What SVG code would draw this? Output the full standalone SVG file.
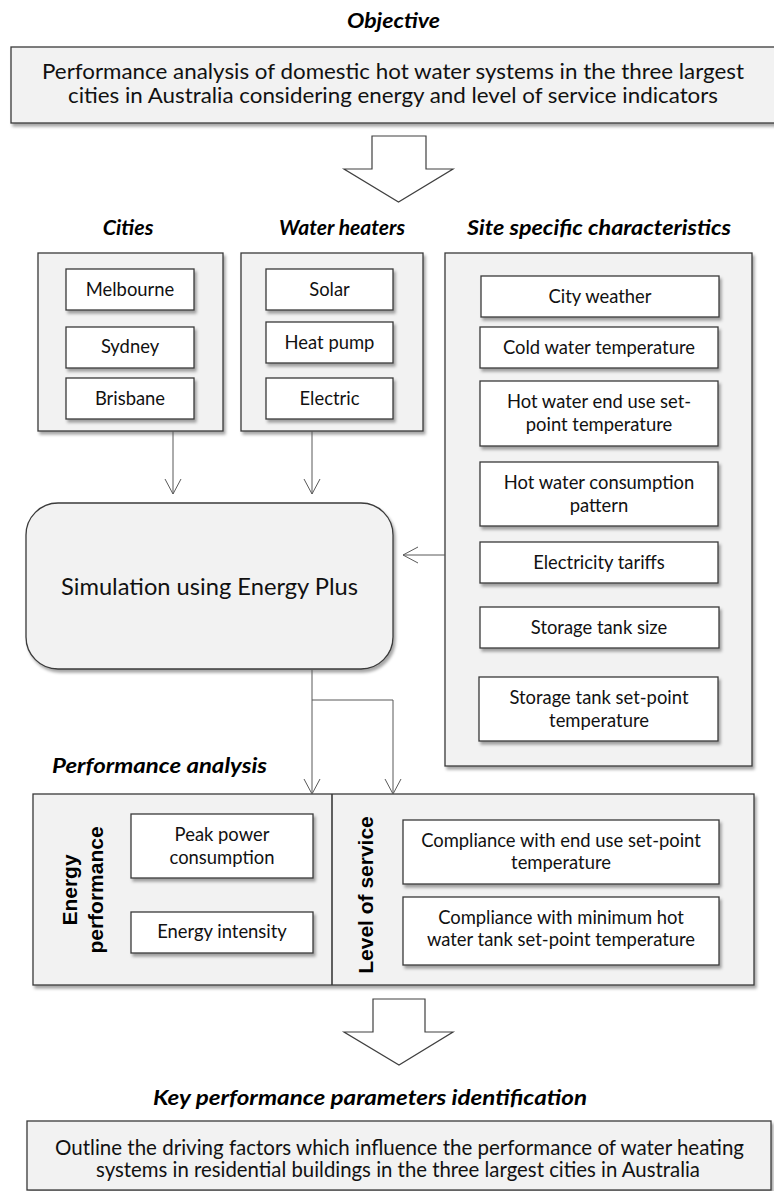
<svg xmlns="http://www.w3.org/2000/svg" width="774" height="1191" viewBox="0 0 774 1191">
<defs>
<filter id="sh" x="-10%" y="-10%" width="130%" height="130%">
<feDropShadow dx="2" dy="3" stdDeviation="1.8" flood-color="#000" flood-opacity="0.35"/>
</filter>
<marker id="v" markerUnits="userSpaceOnUse" markerWidth="20" markerHeight="20" refX="15" refY="8" orient="auto" overflow="visible">
<path d="M0,0 L15,8 L0,16" fill="none" stroke="#595959" stroke-width="1"/>
</marker>
</defs>
<style>
.grp{fill:#f2f2f2;stroke:#3a3a3a;stroke-width:1.3;filter:url(#sh)}
.box{fill:#ffffff;stroke:#3a3a3a;stroke-width:1.3;filter:url(#sh)}
.t{font-family:Lato,"Liberation Sans",sans-serif;font-size:18.4px;fill:#111;text-anchor:middle}
.big{font-size:21.5px}
.bot{font-size:20.5px}
.sim{font-size:24px}
.h{font-family:Lato,"Liberation Sans",sans-serif;font-size:21.5px;font-weight:bold;font-style:italic;fill:#000;text-anchor:middle}
.rot{font-family:"Liberation Sans",Arial,sans-serif;font-weight:bold;font-size:21px;fill:#000;text-anchor:middle}
.conn{fill:none;stroke:#595959;stroke-width:1}
.block{fill:#fff;stroke:#404040;stroke-width:1.2}
</style>

<g id="objective">
<text class="h" x="393.5" y="28" textLength="93" lengthAdjust="spacingAndGlyphs">Objective</text>
<rect class="grp" x="11" y="47" width="770" height="76"/>
<text class="t big" x="393" y="79" textLength="702" lengthAdjust="spacingAndGlyphs">Performance analysis of domestic hot water systems in the three largest</text>
<text class="t big" x="393" y="103" textLength="650" lengthAdjust="spacingAndGlyphs">cities in Australia considering energy and level of service indicators</text>
</g>

<g id="arrow1">
<polygon class="block" points="372,136 426,136 426,169 453,169 398.5,202 344,169 372,169"/>
</g>

<g id="cities">
<text class="h" x="128" y="235">Cities</text>
<rect class="grp" x="38" y="253" width="185" height="178"/>
<rect class="box" x="66" y="269" width="128" height="41"/>
<text class="t" x="130" y="296">Melbourne</text>
<rect class="box" x="66" y="327" width="128" height="41"/>
<text class="t" x="130" y="353">Sydney</text>
<rect class="box" x="66" y="378" width="128" height="41"/>
<text class="t" x="130" y="405">Brisbane</text>
</g>

<g id="water-heaters">
<text class="h" x="342" y="235" textLength="126" lengthAdjust="spacingAndGlyphs">Water heaters</text>
<rect class="grp" x="241" y="253" width="182" height="178"/>
<rect class="box" x="266" y="269" width="127" height="41"/>
<text class="t" x="329.5" y="296">Solar</text>
<rect class="box" x="266" y="322" width="127" height="41"/>
<text class="t" x="329.5" y="349">Heat pump</text>
<rect class="box" x="266" y="378" width="127" height="41"/>
<text class="t" x="329.5" y="405">Electric</text>
</g>

<g id="site">
<text class="h" x="599" y="235" textLength="264" lengthAdjust="spacingAndGlyphs">Site specific characteristics</text>
<rect class="grp" x="445" y="253" width="307" height="513"/>
<rect class="box" x="481" y="276" width="238" height="41"/>
<text class="t" x="600" y="303">City weather</text>
<rect class="box" x="480" y="327" width="238" height="41"/>
<text class="t" x="599" y="354">Cold water temperature</text>
<rect class="box" x="480" y="381" width="238" height="65"/>
<text class="t" x="599" y="408">Hot water end use set-</text>
<text class="t" x="599" y="431">point temperature</text>
<rect class="box" x="480" y="462" width="238" height="64"/>
<text class="t" x="599" y="489">Hot water consumption</text>
<text class="t" x="599" y="512">pattern</text>
<rect class="box" x="480" y="542" width="238" height="41"/>
<text class="t" x="599" y="569">Electricity tariffs</text>
<rect class="box" x="480" y="607" width="239" height="41"/>
<text class="t" x="599" y="634">Storage tank size</text>
<rect class="box" x="479" y="677" width="239" height="64"/>
<text class="t" x="599" y="704">Storage tank set-point</text>
<text class="t" x="599" y="727">temperature</text>
</g>

<g id="simulation">
<rect class="grp" x="26" y="503" width="367" height="166" rx="32" ry="32"/>
<text class="t sim" x="209.5" y="595" textLength="297" lengthAdjust="spacingAndGlyphs">Simulation using Energy Plus</text>
</g>

<g id="performance">
<text class="h" x="159.5" y="773" textLength="215" lengthAdjust="spacingAndGlyphs">Performance analysis</text>
<rect class="grp" x="33" y="794" width="721" height="191"/>
<line x1="332" y1="794" x2="332" y2="985" stroke="#3a3a3a" stroke-width="1.6"/>
<text class="rot" transform="translate(77,890) rotate(-90)">Energy</text>
<text class="rot" transform="translate(103,890) rotate(-90)">performance</text>
<rect class="box" x="131" y="814" width="182" height="64"/>
<text class="t" x="222" y="841">Peak power</text>
<text class="t" x="222" y="864">consumption</text>
<rect class="box" x="131" y="912" width="182" height="41"/>
<text class="t" x="222" y="938">Energy intensity</text>
<text class="rot" transform="translate(373,895) rotate(-90)">Level of service</text>
<rect class="box" x="403" y="820" width="316" height="64"/>
<text class="t" x="561" y="847">Compliance with end use set-point</text>
<text class="t" x="561" y="869">temperature</text>
<rect class="box" x="403" y="897" width="316" height="68"/>
<text class="t" x="561" y="924">Compliance with minimum hot</text>
<text class="t" x="561" y="946">water tank set-point temperature</text>
</g>

<g id="arrow2">
<polygon class="block" points="373,999 425,999 425,1032 453,1032 399,1065 344,1032 373,1032"/>
</g>

<g id="key-parameters">
<text class="h" x="370" y="1105" textLength="434" lengthAdjust="spacingAndGlyphs">Key performance parameters identification</text>
<rect class="grp" x="27" y="1121" width="744" height="69"/>
<text class="t bot" x="399.5" y="1155" textLength="689" lengthAdjust="spacingAndGlyphs">Outline the driving factors which influence the performance of water heating</text>
<text class="t bot" x="398" y="1177" textLength="604" lengthAdjust="spacingAndGlyphs">systems in residential buildings in the three largest cities in Australia</text>
</g>

<g id="connectors">
<line class="conn" x1="173" y1="431" x2="173" y2="494" marker-end="url(#v)"/>
<line class="conn" x1="312" y1="431" x2="312" y2="494" marker-end="url(#v)"/>
<line class="conn" x1="445" y1="555" x2="403" y2="555" marker-end="url(#v)"/>
<line class="conn" x1="312" y1="669" x2="312" y2="794" marker-end="url(#v)"/>
<polyline class="conn" points="312,700 393,700 393,794" marker-end="url(#v)"/>
</g>
</svg>
